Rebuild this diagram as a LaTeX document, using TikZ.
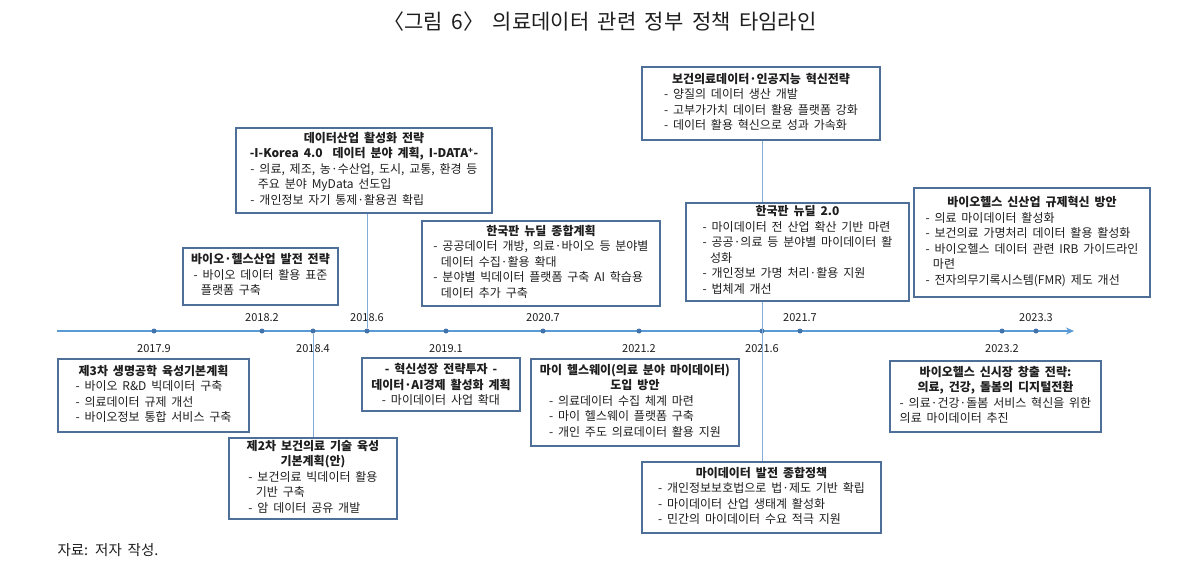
\documentclass[tikz,border=0pt]{standalone}
\usepackage{fontspec}
\setmainfont{Noto Sans CJK KR}[WordSpace=1.8]
\usetikzlibrary{arrows.meta}
\definecolor{boxblue}{RGB}{78,112,152}
\definecolor{axisblue}{RGB}{91,155,213}
\definecolor{dotblue}{RGB}{68,114,170}
\definecolor{linkblue}{RGB}{128,172,214}
\definecolor{inktext}{RGB}{30,30,30}
\newcommand{\cont}{\hspace*{0.62em}}
\begin{document}
\begin{tikzpicture}[x=1pt, y=-1pt,
    pbox/.style={rectangle, draw=boxblue, line width=1.3pt, fill=white, align=center, inner sep=2pt, text=inktext, font=\fontsize{12}{15.5}\selectfont},
    dot/.style={circle, fill=dotblue, inner sep=0pt, minimum size=5pt},
    datelbl/.style={text=inktext, font=\fontsize{11}{13}\selectfont},
    vline/.style={linkblue, line width=0.8pt},
    axisline/.style={-{Stealth[length=8pt, width=7pt]}, axisblue, line width=1.6pt}
]
\useasboundingbox (0,0) rectangle (1200,581);
% Title and source
\node[text=inktext, font=\fontsize{21}{25}\selectfont] (title) at (600,22) {〈그림 6〉 의료데이터 관련 정부 정책 타임라인};
\node[anchor=west, text=inktext, font=\fontsize{14.5}{17}\selectfont] (source) at (54,550) {자료: 저자 작성.};
% Time axis
\coordinate (axstart) at (57,331);
\coordinate (axend) at (1074,331);
\draw[axisline] (axstart) -- (axend);
\node[dot] (d1) at (154,331) {};
\node[dot] (d2) at (262,331) {};
\node[dot] (d3) at (313,331) {};
\node[dot] (d4) at (367,331) {};
\node[dot] (d5) at (446,331) {};
\node[dot] (d6) at (543,331) {};
\node[dot] (d7) at (639,331) {};
\node[dot] (d8) at (762,331) {};
\node[dot] (d9) at (800,331) {};
\node[dot] (d10) at (1002,331) {};
\node[dot] (d11) at (1036,331) {};
\node[datelbl] (t1) at (154,349) {2017.9};
\node[datelbl] (t2) at (262,318) {2018.2};
\node[datelbl] (t3) at (313,349) {2018.4};
\node[datelbl] (t4) at (367,318) {2018.6};
\node[datelbl] (t5) at (446,349) {2019.1};
\node[datelbl] (t6) at (543,318) {2020.7};
\node[datelbl] (t7) at (639,349) {2021.2};
\node[datelbl] (t8) at (762,349) {2021.6};
\node[datelbl] (t9) at (800,318) {2021.7};
\node[datelbl] (t10) at (1002,349) {2023.2};
\node[datelbl] (t11) at (1036,318) {2023.3};
% Policies above the axis
\node[pbox, minimum width=256, minimum height=85] (b1) at (364,170.5) {\textbf{데이터산업 활성화 전략}\\ \textbf{-I-Korea 4.0 \ 데이터 분야 계획, I-DATA\textsuperscript{+}-}\\ \begin{tabular}[t]{@{}l@{}}- 의료, 제조, 농·수산업, 도시, 교통, 환경 등\\ \cont 주요 분야 MyData 선도입\\ - 개인정보 자기 통제·활용권 확립\end{tabular}};
\node[pbox, minimum width=155, minimum height=57] (b2) at (260.5,276.5) {\textbf{바이오·헬스산업 발전 전략}\\ \begin{tabular}[t]{@{}l@{}}- 바이오 데이터 활용 표준\\ \cont 플랫폼 구축\end{tabular}};
\node[pbox, minimum width=238, minimum height=85] (b3) at (541,263.5) {\textbf{한국판 뉴딜 종합계획}\\ \begin{tabular}[t]{@{}l@{}}- 공공데이터 개방, 의료·바이오 등 분야별\\ \cont 데이터 수집·활용 확대\\ - 분야별 빅데이터 플랫폼 구축 AI 학습용\\ \cont 데이터 추가 구축\end{tabular}};
\node[pbox, minimum width=238, minimum height=73] (b4) at (761,103.5) {\textbf{보건의료데이터·인공지능 혁신전략}\\ \begin{tabular}[t]{@{}l@{}}- 양질의 데이터 생산 개발\\ - 고부가가치 데이터 활용 플랫폼 강화\\ - 데이터 활용 혁신으로 성과 가속화\end{tabular}};
\node[pbox, minimum width=223, minimum height=98] (b5) at (797.5,252) {\textbf{한국판 뉴딜 2.0}\\ \begin{tabular}[t]{@{}l@{}}- 마이데이터 전 산업 확산 기반 마련\\ - 공공·의료 등 분야별 마이데이터 활\\ \cont 성화\\ - 개인정보 가명 처리·활용 지원\\ - 법체계 개선\end{tabular}};
\node[pbox, minimum width=236, minimum height=109] (b6) at (1032,242.5) {\textbf{바이오헬스 신산업 규제혁신 방안}\\ \begin{tabular}[t]{@{}l@{}}- 의료 마이데이터 활성화\\ - 보건의료 가명처리 데이터 활용 활성화\\ - 바이오헬스 데이터 관련 IRB 가이드라인\\ \cont 마련\\ - 전자의무기록시스템(FMR) 제도 개선\end{tabular}};
% Policies below the axis
\node[pbox, minimum width=191, minimum height=73] (b7) at (153.5,395.5) {\textbf{제3차 생명공학 육성기본계획}\\ \begin{tabular}[t]{@{}l@{}}- 바이오 R\&D 빅데이터 구축\\ - 의료데이터 규제 개선\\ - 바이오정보 통합 서비스 구축\end{tabular}};
\node[pbox, minimum width=168, minimum height=81] (b8) at (313,478.5) {\textbf{제2차 보건의료 기술 육성}\\ \textbf{기본계획(안)}\\ \begin{tabular}[t]{@{}l@{}}- 보건의료 빅데이터 활용\\ \cont 기반 구축\\ - 암 데이터 공유 개발\end{tabular}};
\node[pbox, minimum width=158, minimum height=53] (b9) at (441,384.5) {\textbf{- 혁신성장 전략투자 -}\\ \textbf{데이터·AI경제 활성화 계획}\\ - 마이데이터 사업 확대};
\node[pbox, minimum width=208, minimum height=87] (b10) at (635,402.5) {\textbf{마이 헬스웨이(의료 분야 마이데이터)}\\ \textbf{도입 방안}\\ \begin{tabular}[t]{@{}l@{}}- 의료데이터 수집 체계 마련\\ - 마이 헬스웨이 플랫폼 구축\\ - 개인 주도 의료데이터 활용 지원\end{tabular}};
\node[pbox, minimum width=239, minimum height=71] (b11) at (761.5,497.5) {\textbf{마이데이터 발전 종합정책}\\ \begin{tabular}[t]{@{}l@{}}- 개인정보보호법으로 법·제도 기반 확립\\ - 마이데이터 산업 생태계 활성화\\ - 민간의 마이데이터 수요 적극 지원\end{tabular}};
\node[pbox, minimum width=211, minimum height=71] (b12) at (995.5,396.5) {\textbf{바이오헬스 신시장 창출 전략:}\\ \textbf{의료, 건강, 돌봄의 디지털전환}\\ \begin{tabular}[t]{@{}l@{}}- 의료·건강·돌봄 서비스 혁신을 위한\\ 의료 마이데이터 추진\end{tabular}};
% Links from the axis
\draw[vline] (b1.south -| d4) -- (d4);
\draw[vline] (d3) -- (d3 |- b8.north);
\draw[vline] (b4.south -| d8) -- (b5.north -| d8);
\draw[vline] (b5.south -| d8) -- (b11.north -| d8);
\end{tikzpicture}
\end{document}
